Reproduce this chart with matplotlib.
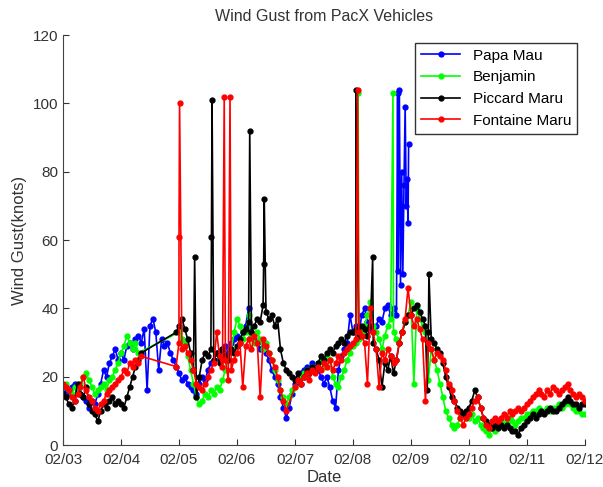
import datetime
import numpy as np
import matplotlib
matplotlib.use("Agg")
import matplotlib.pyplot as plt
import matplotlib.dates as mdates

plt.rcParams["font.family"] = ["Liberation Sans", "DejaVu Sans"]

# %% data (days after 02/03, 0.05 day sampling per segment)
step = 0.05

papa_start = 0.0
papa_vals = [17, 16, 15, 17, 18, 16, 15, 14, 13, 11, 13, 12, 15, 18, 22, 20, 24, 26, 28, 25,
             27, 25, 29, 30, 28, 31, 32, 30, 34, 16, 35, 37, 33, 22, 31, 29, 30, 27, 25, 23,
             21, 19, 20, 18, 17, 16, 15, 18, 20, 19, 22, 24, 25, 27, 26, 28, 29, 27, 30, 31,
             32, 30, 33, 35, 40, 33, 31, 30, 28, 30, 27, 25, 22, 20, 18, 14, 11, 8, 11, 15,
             18, 20, 21, 22, 23, 22, 24, 23, 22, 20, 18, 20, 17, 13, 11, 22, 26, 28, 30, 38,
             33, 35, 32, 38, 40, 36, 34, 33, 35, 37, 36, 40, 41, 38, 40, 38]
papa_burst_t = [5.77, 5.78, 5.80, 5.82, 5.84, 5.86, 5.88, 5.90, 5.92, 5.93, 5.95, 5.96]
papa_burst_v = [103, 51, 104, 47, 80, 50, 76, 99, 70, 78, 65, 88]

benjamin_a_start = 0.0
benjamin_a = [17, 18, 16, 15, 17, 16, 18, 20, 21, 19, 17, 15, 16, 17, 18, 16, 19, 20, 22, 24,
              27, 29, 32, 30, 28, 30, 27]
benjamin_b_start = 2.0
benjamin_b = [33, 31, 30, 26, 22, 18, 14, 12, 13, 15, 14, 16, 15, 17, 16, 19, 22, 25, 28, 33,
              37, 35, 31, 33, 38, 32, 30, 33, 31, 28, 30, 27, 25, 22, 19, 16, 14, 12, 14, 16,
              17, 19, 20, 21, 22, 21, 23, 22, 24, 25, 23, 26, 25, 20, 18, 17, 20, 22, 25, 27,
              29, 30, 31, 33, 35, 38, 42, 35, 33, 31, 28, 32, 35, 37, 33, 31, 30, 33, 36, 38,
              42, 18, 40, 37, 35, 33, 19, 28, 25, 22, 18, 14, 10, 8, 6, 5, 6, 8, 9, 8,
              8, 9, 7, 8, 6, 5, 4, 3, 5, 4, 6, 7, 6, 7, 8, 7, 6, 7, 8, 8,
              9, 9, 10, 10, 11, 10, 10, 11, 10, 11, 11, 12, 11, 12, 13, 12, 11, 10, 10, 9,
              9]
benjamin_spike_t = [5.09, 5.69]
benjamin_spike_v = [103, 103]

piccard_a_start = 0.0
piccard_a = [15, 14, 12, 11, 13, 18, 15, 14, 17, 12, 10, 9, 7, 10, 12, 11, 13, 14, 12, 13,
             12, 11, 14, 17, 20, 23, 25, 27]
piccard_b_start = 1.95
piccard_b = [33,
             35, 37, 34, 31, 27, 22, 14, 20, 25, 27, 26, 28, 25, 27, 24, 28, 26, 25, 28, 27,
             29, 31, 33, 34, 36, 33, 35, 37, 36, 41, 39, 37, 38, 35, 37, 28, 24, 22, 21, 20,
             19, 21, 18, 20, 22, 21, 23, 22, 24, 26, 25, 27, 28, 27, 29, 30, 31, 30, 32, 33,
             33, 34, 32, 35, 34, 32, 35, 30, 28, 25, 17, 24, 22, 26, 21, 25, 30, 33, 36, 38,
             38, 40, 41, 39, 37, 35, 33, 31, 30, 28, 27, 24, 20, 17, 14, 13, 11, 10, 9, 10,
             11, 13, 16, 14, 11, 8, 7, 6, 5, 6, 5, 6, 5, 6, 5, 4, 4, 3, 5, 6,
             7, 8, 9, 8, 9, 10, 9, 10, 11, 10, 10, 11, 12, 13, 14, 13, 12, 12, 11, 12,
             12]
piccard_spike_t = [2.27, 2.56, 2.57, 3.22, 3.46, 3.47, 5.05, 5.34, 6.28, 6.31]
piccard_spike_v = [55, 61, 101, 92, 53, 72, 104, 55, 16, 50]

fontaine_a_start = 0.0
fontaine_a = [18, 17, 16, 14, 13, 15, 17, 20, 16, 14, 13, 11, 10, 12, 13, 15, 16, 17, 18, 19,
              20, 22, 21, 24, 23, 25, 24, 26]
fontaine_b_start = 1.95
fontaine_b = [23,
              30, 28, 29, 27, 25, 22, 18, 17, 16, 18, 20, 22, 24, 33, 26, 23, 25, 19, 22, 25,
              27, 30, 17, 29, 31, 28, 32, 30, 14, 31, 29, 27, 25, 23, 20, 16, 13, 10]
fontaine_c_start = 4.0
fontaine_c = [17, 19, 18, 20, 21, 19, 22, 21, 23, 22, 24, 23, 25, 22, 24, 26, 25, 27, 28, 29,
              30, 31, 33, 32, 30, 18, 40, 33, 28, 17, 27, 25, 28, 26, 24, 25, 30, 33, 37, 46,
              38, 35, 37, 34, 31, 13, 30, 28, 25, 27, 26, 25, 22, 18, 16, 13, 10, 8, 6, 8,
              9, 11, 13, 14, 11, 8, 6, 5, 7, 8, 7, 8, 9, 8, 10, 9, 10, 11, 10, 11,
              12, 13, 14, 15, 16, 15, 14, 16, 15, 17, 16, 15, 16, 17, 18, 16, 15, 14, 15, 14,
              13]
fontaine_spike_t = [2.00, 2.01, 2.78, 2.88, 5.08]
fontaine_spike_v = [61, 100, 102, 102, 104]


# %% assemble series
def series(segments, extra_t=(), extra_v=()):
    t = []
    v = []
    for start, vals in segments:
        t.extend(start + step * np.arange(len(vals)))
        v.extend(vals)
    t.extend(extra_t)
    v.extend(extra_v)
    t = np.array(t)
    v = np.array(v, dtype=float)
    order = np.argsort(t, kind="stable")
    return t[order], v[order]


base = mdates.date2num(datetime.datetime(2012, 2, 3))

vehicles = [
    ("Papa Mau", "#0000ff", series([(papa_start, papa_vals)], papa_burst_t, papa_burst_v)),
    ("Benjamin", "#00ff00", series([(benjamin_a_start, benjamin_a), (benjamin_b_start, benjamin_b)],
                                    benjamin_spike_t, benjamin_spike_v)),
    ("Piccard Maru", "#000000", series([(piccard_a_start, piccard_a), (piccard_b_start, piccard_b)],
                                        piccard_spike_t, piccard_spike_v)),
    ("Fontaine Maru", "#ff0000", series([(fontaine_a_start, fontaine_a), (fontaine_b_start, fontaine_b),
                                         (fontaine_c_start, fontaine_c)],
                                        fontaine_spike_t, fontaine_spike_v)),
]

# %% plot
fig = plt.figure(figsize=(6.03, 4.87), dpi=100)
ax = fig.add_axes([0.1045, 0.086, 0.8655, 0.842])

for name, color, (t, v) in vehicles:
    ax.plot(base + t, v, "-", color=color, marker=".", markersize=7, linewidth=1.2, label=name)

ax.set_xlim(base, base + 9)
ax.set_ylim(0, 120)
ax.set_yticks(np.arange(0, 121, 20))
ax.xaxis.set_major_locator(mdates.DayLocator())
ax.xaxis.set_major_formatter(mdates.DateFormatter("%m/%d"))
ax.tick_params(direction="in", labelsize=11, colors="#333333", length=4)
ax.tick_params(axis="x", pad=6)
for side in ["top", "right"]:
    ax.spines[side].set_visible(False)
for side in ["left", "bottom"]:
    ax.spines[side].set_color("#444444")

ax.set_title("Wind Gust from PacX Vehicles", fontsize=11.5, color="#333333", pad=10)
ax.set_xlabel("Date", fontsize=12, color="#333333", labelpad=2)
ax.set_ylabel("Wind Gust(knots)", fontsize=12, color="#333333")

leg = ax.legend(loc="upper right", fontsize=11, fancybox=False, edgecolor="#333333",
                borderaxespad=0.5, handlelength=2.6, framealpha=1)
leg.get_frame().set_linewidth(1.0)

fig.savefig("out.png", dpi=100)
